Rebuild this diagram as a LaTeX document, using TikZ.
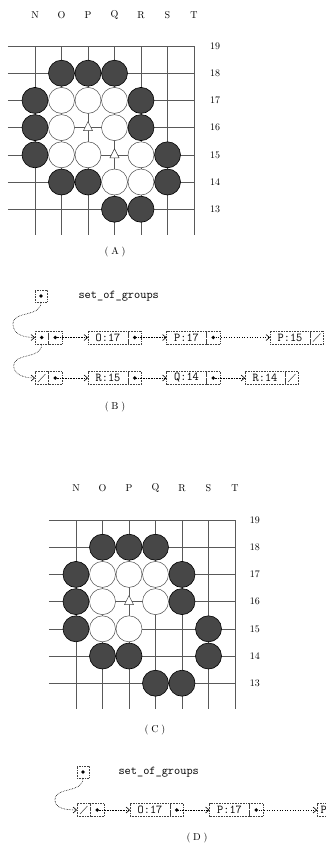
\documentclass[tikz,border=0pt]{standalone}
\usepackage{tikz}
\usetikzlibrary{positioning, arrows.meta}

\begin{document}
\begin{tikzpicture}[
        x=1pt, y=-1pt,
        gridline/.style={
            draw=black!65,
            line width=0.5pt
        },
        blackstone/.style={
            draw=black,
            fill=black!72,
            line width=0.6pt
        },
        whitestone/.style={
            draw=black!70,
            fill=white,
            line width=0.5pt
        },
        trimark/.style={
            draw=black!75,
            fill=white,
            line width=0.5pt
        },
        boardlabel/.style={
            font=\normalsize
        },
        cell/.style={
            rectangle,
            draw=black!75,
            densely dotted,
            line width=0.6pt,
            inner sep=0pt,
            outer sep=0pt,
            minimum height=13pt
        },
        namecell/.style={
            cell,
            minimum width=40pt,
            font=\ttfamily\large
        },
        dotcell/.style={
            cell,
            minimum width=13.5pt,
            path picture={\fill (path picture bounding box.center) circle (1.9pt);}
        },
        nilcell/.style={
            cell,
            minimum width=13.5pt,
            path picture={\draw[solid, black!75, line width=0.5pt]
                ([shift={(3pt,2.5pt)}]path picture bounding box.south west) --
                ([shift={(-3pt,-2.5pt)}]path picture bounding box.north east);}
        },
        headcell/.style={
            dotcell,
            minimum width=12pt,
            minimum height=12pt
        },
        listname/.style={
            anchor=west,
            font=\ttfamily\large
        },
        ptr/.style={
            -{Straight Barb[length=3.5pt, width=6pt]},
            densely dotted,
            line width=0.6pt
        },
        longptr/.style={
            ptr,
            dotted
        }
    ]

    \useasboundingbox (0,0) rectangle (326,852);
    \clip (0,0) rectangle (326,852);

    % (A) board
    \begin{scope}[shift={(35,46)}, x=26.5pt, y=-27.2pt]
        \foreach \r in {0,...,6}
            \draw[gridline] (-1.02,\r) -- (6,\r);
        \foreach \c in {0,...,6}
            \draw[gridline] (\c,0) -- (\c,6.95);
        \foreach \c/\l in {0/N,1/O,2/P,3/Q,4/R,5/S,6/T}
            \node[boardlabel] (colA\l) at (\c,-1.14) {\l};
        \foreach \r/\n in {0/19,1/18,2/17,3/16,4/15,5/14,6/13}
            \node[boardlabel] (rowA\n) at (6.8,\r) {\n};
        \foreach \c/\r in {1/1,2/1,3/1,0/2,4/2,0/3,4/3,0/4,5/4,1/5,2/5,5/5,3/6,4/6}
            \draw[blackstone] (\c,\r) circle[radius=13pt];
        \foreach \c/\r in {1/2,2/2,3/2,1/3,3/3,1/4,2/4,4/4,3/5,4/5}
            \draw[whitestone] (\c,\r) circle[radius=13pt];
        \foreach \c/\r in {2/3,3/4}
            \draw[trimark] (\c,\r) ++(0pt,6pt) -- ++(-4.5pt,-9pt) -- ++(9pt,0pt) -- cycle;
        \node[boardlabel] (capA) at (3.02,7.57) {(\;A\;)};
    \end{scope}

    % (B) lists
    \node[headcell] (headB) at (41,296) {};
    \node[listname] (nameB) at (75,296) {set\_of\_groups};

    \node[dotcell] (g1a) at (41.75,337.5) {};
    \node[dotcell, right=0pt of g1a] (g1b) {};
    \node[namecell, right=26pt of g1b] (b11) {O:17};
    \node[dotcell, right=0pt of b11] (b11p) {};
    \node[namecell, right=25pt of b11p] (b12) {P:17};
    \node[dotcell, right=0pt of b12] (b12p) {};
    \node[namecell, right=50pt of b12p] (b13) {P:15};
    \node[nilcell, right=0pt of b13] (b13p) {};

    \node[nilcell] (g2a) at (41.75,378) {};
    \node[dotcell, right=0pt of g2a] (g2b) {};
    \node[namecell, right=26pt of g2b] (b21) {R:15};
    \node[dotcell, right=0pt of b21] (b21p) {};
    \node[namecell, right=25pt of b21p] (b22) {Q:14};
    \node[dotcell, right=0pt of b22] (b22p) {};
    \node[namecell, right=25pt of b22p] (b23) {R:14};
    \node[nilcell, right=0pt of b23] (b23p) {};

    \draw[ptr] (headB.south) .. controls +(0,16) and +(0,-14) .. ++(-28,22)
        .. controls +(0,10) and +(-12,0) .. (g1a.west);
    \draw[ptr] (g1a.south) .. controls +(0,16) and +(0,-14) .. ++(-28,22)
        .. controls +(0,8) and +(-12,0) .. (g2a.west);
    \draw[ptr] (g1b.center) -- (b11.west);
    \draw[ptr] (b11p.center) -- (b12.west);
    \draw[longptr] (b12p.center) -- (b13.west);
    \draw[ptr] (g2b.center) -- (b21.west);
    \draw[ptr] (b21p.center) -- (b22.west);
    \draw[ptr] (b22p.center) -- (b23.west);

    \node[boardlabel] (capB) at (115,407) {(\;B\;)};

    % (C) board
    \begin{scope}[shift={(76,520)}, x=26.5pt, y=-27.2pt]
        \foreach \r in {0,...,6}
            \draw[gridline] (-1.02,\r) -- (6,\r);
        \foreach \c in {0,...,6}
            \draw[gridline] (\c,0) -- (\c,6.95);
        \foreach \c/\l in {0/N,1/O,2/P,3/Q,4/R,5/S,6/T}
            \node[boardlabel] (colC\l) at (\c,-1.18) {\l};
        \foreach \r/\n in {0/19,1/18,2/17,3/16,4/15,5/14,6/13}
            \node[boardlabel] (rowC\n) at (6.75,\r) {\n};
        \foreach \c/\r in {1/1,2/1,3/1,0/2,4/2,0/3,4/3,0/4,5/4,1/5,2/5,5/5,3/6,4/6}
            \draw[blackstone] (\c,\r) circle[radius=13pt];
        \foreach \c/\r in {1/2,2/2,3/2,1/3,3/3,1/4,2/4}
            \draw[whitestone] (\c,\r) circle[radius=13pt];
        \draw[trimark] (2,3) ++(0pt,6pt) -- ++(-4.5pt,-9pt) -- ++(9pt,0pt) -- cycle;
        \node[boardlabel] (capC) at (2.98,7.72) {(\;C\;)};
    \end{scope}

    % (D) list
    \node[headcell] (headD) at (83,772) {};
    \node[listname] (nameD) at (115,772) {set\_of\_groups};

    \node[nilcell] (d1a) at (83.75,810) {};
    \node[dotcell, right=0pt of d1a] (d1b) {};
    \node[namecell, right=26pt of d1b] (d11) {O:17};
    \node[dotcell, right=0pt of d11] (d11p) {};
    \node[namecell, right=26pt of d11p] (d12) {P:17};
    \node[dotcell, right=0pt of d12] (d12p) {};
    \node[namecell, text width=33pt, align=left, right=54pt of d12p] (d13) {P};

    \draw[ptr] (headD.south) .. controls +(0,16) and +(0,-14) .. ++(-28,22)
        .. controls +(0,8) and +(-12,0) .. (d1a.west);
    \draw[ptr] (d1b.center) -- (d11.west);
    \draw[ptr] (d11p.center) -- (d12.west);
    \draw[longptr] (d12p.center) -- (d13.west);

    \node[boardlabel] (capD) at (197,838) {(\;D\;)};

\end{tikzpicture}
\end{document}
